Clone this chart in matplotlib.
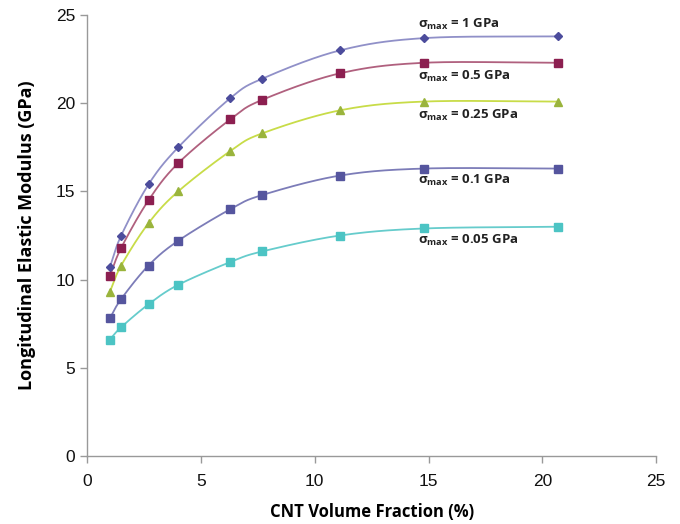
import numpy as np
import matplotlib
matplotlib.use("Agg")
import matplotlib.pyplot as plt

x = [1.0, 1.5, 2.7, 4.0, 6.3, 7.7, 11.1, 14.8, 20.7]
s_1 = [10.7, 12.5, 15.4, 17.5, 20.3, 21.4, 23.0, 23.7, 23.8]
s_05 = [10.2, 11.8, 14.5, 16.6, 19.1, 20.2, 21.7, 22.3, 22.3]
s_025 = [9.3, 10.8, 13.2, 15.0, 17.3, 18.3, 19.6, 20.1, 20.1]
s_01 = [7.8, 8.9, 10.8, 12.2, 14.0, 14.8, 15.9, 16.3, 16.3]
s_005 = [6.6, 7.3, 8.6, 9.7, 11.0, 11.6, 12.5, 12.9, 13.0]
labels = ["1 GPa", "0.5 GPa", "0.25 GPa", "0.1 GPa", "0.05 GPa"]
label_y = [24.5, 21.5, 19.3, 15.6, 12.2]
xticks = [0, 5, 10, 15, 20, 25]
yticks = [0, 5, 10, 15, 20, 25]


def smooth(xs, ys, n=30):
    # Catmull-Rom style smoothing (like Excel smoothed lines), for drawing only
    xs = np.asarray(xs, float); ys = np.asarray(ys, float)
    P = np.column_stack([xs, ys])
    P = np.vstack([P[0] - (P[1] - P[0]), P, P[-1] + (P[-1] - P[-2])])
    out = []
    t = np.linspace(0, 1, n)
    for i in range(1, len(P) - 2):
        p0, p1, p2, p3 = P[i - 1], P[i], P[i + 1], P[i + 2]
        c1 = p1 + (p2 - p0) / 6
        c2 = p2 - (p3 - p1) / 6
        tt = t[:, None]
        seg = ((1 - tt) ** 3) * p1 + 3 * ((1 - tt) ** 2) * tt * c1 + 3 * (1 - tt) * tt ** 2 * c2 + tt ** 3 * p2
        out.append(seg if i == 1 else seg[1:])
    s = np.vstack(out)
    return s[:, 0], s[:, 1]


series = [s_1, s_05, s_025, s_01, s_005]
line_colors = ["#9090c8", "#b0607e", "#c8dc48", "#7c7cb8", "#66cccc"]
marker_colors = ["#4c4c9c", "#8c1f50", "#9ab43c", "#55559e", "#4cc4c4"]
markers = ["D", "s", "^", "s", "s"]
msizes = [4, 5.5, 6, 5.5, 5.5]

fig = plt.figure(figsize=(6.8, 5.24), dpi=100)
ax = fig.add_axes([0.128, 0.130, 0.837, 0.841])

for ys, lc, mc, m, ms in zip(series, line_colors, marker_colors, markers, msizes):
    sx, sy = smooth(x, ys)
    ax.plot(sx, sy, color=lc, lw=1.3, zorder=2)
    ax.plot(x, ys, ls="none", marker=m, ms=ms, color=mc, mec=mc, zorder=3)

for lab, ly in zip(labels, label_y):
    ax.text(14.55, ly, "σ$_{\\mathregular{max}}$" + " = " + lab, fontsize=9.5,
            fontweight="bold", family="Open Sans", va="center", ha="left", color="#222222")

ax.set_xlim(0, 25)
ax.set_ylim(0, 25)
ax.set_xticks(xticks)
ax.set_yticks(yticks)
for sp in ["top", "right"]:
    ax.spines[sp].set_visible(False)
for sp in ["left", "bottom"]:
    ax.spines[sp].set_color("#999999")
    ax.spines[sp].set_linewidth(1.0)
ax.tick_params(colors="#999999", length=5, width=1, labelcolor="#111111", labelsize=12.5)
for t in ax.get_xticklabels() + ax.get_yticklabels():
    t.set_family("Liberation Sans")
ax.tick_params(axis="x", pad=8)
ax.set_xlabel("CNT Volume Fraction (%)", fontsize=12, fontweight="bold", family="Open Sans", labelpad=10)
ax.set_ylabel("Longitudinal Elastic Modulus (GPa)", fontsize=13, fontweight="bold", family="Open Sans", labelpad=14)

fig.savefig("out.png", dpi=100)
